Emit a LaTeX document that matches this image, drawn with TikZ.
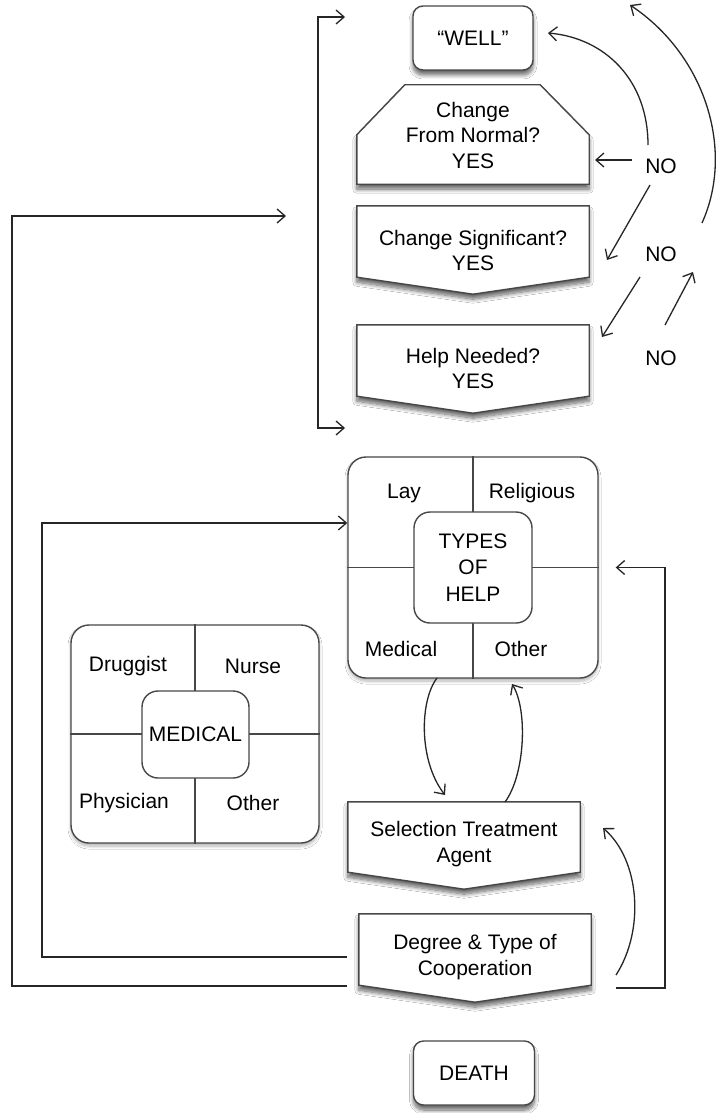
\documentclass[tikz,border=0pt]{standalone}
\usepackage{fontspec}
\setmainfont{Liberation Sans}
\usetikzlibrary{arrows.meta,calc,shadows.blur}

\begin{document}
\begin{tikzpicture}[x=1pt,y=-1pt,
  txt/.style={font=\fontsize{21}{25.5}\selectfont, align=center, inner sep=0pt, text=black},
  boxline/.style={draw=black!72, line width=1.4pt, fill=white},
  softshadow/.style={blur shadow={shadow xshift=0pt, shadow yshift=-5pt, shadow blur radius=4pt, shadow blur steps=10, shadow opacity=60}},
  lightshadow/.style={blur shadow={shadow xshift=0pt, shadow yshift=-3pt, shadow blur radius=3pt, shadow blur steps=8, shadow opacity=30}},
  rbox/.style={boxline, softshadow, rounded corners=10pt, minimum width=120pt, minimum height=64pt, inner sep=0pt},
  area/.style={draw=none, minimum width=232pt, inner sep=0pt},
  wire/.style={draw=black!72, line width=1.2pt},
  arrowline/.style={draw=black!85, line width=1.3pt, -{Straight Barb[length=8pt,width=14pt]}},
]
\fill[white] (0,0) rectangle (717,1113);
\useasboundingbox (0,0) rectangle (717,1113);

% ---- upper decision column ----
\node[rbox, txt] (well) at (473,38) {“WELL”};

\node[area, minimum height=99pt] (cfn) at (473,134.5) {};
\path[boxline, softshadow] ($(cfn.north west)+(48,0)$) -- ($(cfn.north east)+(-49,0)$)
  -- ($(cfn.north east)+(0,50)$) -- (cfn.south east) -- (cfn.south west)
  -- ($(cfn.north west)+(0,50)$) -- cycle;
\node[txt] (cfnT) at (473,135) {Change\\From Normal?\\YES};

\node[area, minimum height=71pt] (cs) at (473,241.5) {};
\path[boxline, softshadow] (cs.north west) -- (cs.north east) -- (cs.south east)
  -- ($(cs.south)+(0,17)$) -- (cs.south west) -- cycle;
\node[txt] (csT) at (473,250.5) {Change Significant?\\YES};

\node[area, minimum height=71pt] (hn) at (473,360.5) {};
\path[boxline, softshadow] (hn.north west) -- (hn.north east) -- (hn.south east)
  -- ($(hn.south)+(0,17)$) -- (hn.south west) -- cycle;
\node[txt] (hnT) at (473,368.5) {Help Needed?\\YES};

% ---- NO answers ----
\node[txt] (no1) at (661,166) {NO};
\node[txt] (no2) at (661,254) {NO};
\node[txt] (no3) at (661,358) {NO};

% ---- types of help ----
\node[boxline, lightshadow, rounded corners=18pt, minimum width=250pt, minimum height=221pt] (types) at (473,567.5) {};
\draw[wire] (types.north) -- (types.south);
\draw[wire] (types.west) -- (types.east);
\node[boxline, rounded corners=16pt, minimum width=118pt, minimum height=111pt, txt] (typesC) at (473,567.5) {TYPES\\[1pt]OF\\[1pt]HELP};
\node[txt] (lay) at (404,493) {Lay};
\node[txt] (religious) at (532,493) {Religious};
\node[txt] (medicalT) at (401,649) {Medical};
\node[txt] (otherT) at (521,649) {Other};

% ---- medical help ----
\node[boxline, lightshadow, rounded corners=18pt, minimum width=248pt, minimum height=218pt] (med) at (195,734) {};
\draw[wire] (med.north) -- (med.south);
\draw[wire] (med.west) -- (med.east);
\node[boxline, rounded corners=16pt, minimum width=107pt, minimum height=87pt, txt] (medC) at (195.5,734.5) {MEDICAL};
\node[txt] (druggist) at (128,666) {Druggist};
\node[txt] (nurse) at (253,666) {Nurse};
\node[txt] (physician) at (124,803) {Physician};
\node[txt] (otherM) at (253,803) {Other};

% ---- treatment column ----
\node[area, minimum height=70pt] (sel) at (464,837) {};
\path[boxline, softshadow] (sel.north west) -- (sel.north east) -- (sel.south east)
  -- ($(sel.south)+(0,17)$) -- (sel.south west) -- cycle;
\node[txt] (selT) at (464,844) {Selection Treatment\\Agent};

\node[area, minimum height=71pt] (deg) at (475,949.5) {};
\path[boxline, softshadow] (deg.north west) -- (deg.north east) -- (deg.south east)
  -- ($(deg.south)+(0,17)$) -- (deg.south west) -- cycle;
\node[txt] (degT) at (475,957) {Degree \& Type of\\Cooperation};

\node[rbox, txt, minimum width=121pt] (death) at (474,1073) {DEATH};

% ---- connector end points ----
\coordinate (brTop) at (318,17);
\coordinate (brBot) at (318,428);
\coordinate (brTopTip) at (345,17);
\coordinate (brBotTip) at (345,428);
\coordinate (degOut) at (347,986);
\coordinate (outerCorner) at (12,216);
\coordinate (outerTip) at (286,216);
\coordinate (degIn) at (347,957);
\coordinate (innerCorner) at (42,523);
\coordinate (degRight) at (616,988);
\coordinate (rightCorner) at (665,567.5);
\coordinate (degCurve) at (616,975);
\coordinate (selSide) at (603,828);
\coordinate (typesOut) at (437,678);
\coordinate (selIn) at (445,795);
\coordinate (selOut) at (505,802);
\coordinate (typesIn) at (512,684);
\coordinate (no1w) at (632,160);
\coordinate (cfnIn) at (595,160);
\coordinate (no1n) at (648,145);
\coordinate (wellIn) at (548,33);
\coordinate (no1s) at (650,185);
\coordinate (csIn) at (607,260);
\coordinate (no2s) at (640,277);
\coordinate (hnIn) at (602,337);
\coordinate (no3n) at (665,325);
\coordinate (no3Tip) at (693,272);
\coordinate (arcStart) at (702,223);
\coordinate (arcTip) at (630,5);

% ---- connectors ----
\draw[arrowline, {Straight Barb[length=8pt,width=14pt]}-{Straight Barb[length=8pt,width=14pt]}]
  (brTopTip) -- (brTop) -- (brBot) -- (brBotTip);
\draw[arrowline] (degOut) -| (outerCorner) -- (outerTip);
\draw[arrowline] (degIn) -| (innerCorner) -- (types.west |- innerCorner);
\draw[arrowline] (degRight) -| (rightCorner) -- ($(types.east)+(17,0)$);
\draw[arrowline] (degCurve) .. controls (645,930) and (640,860) .. (selSide);
\draw[arrowline] (typesOut) .. controls (420,700) and (418,760) .. (selIn);
\draw[arrowline] (selOut) .. controls (525,775) and (528,710) .. (typesIn);
\draw[arrowline] (no1w) -- (cfnIn);
\draw[arrowline] (no1n) .. controls (648,80) and (605,38) .. (wellIn);
\draw[arrowline] (no1s) -- (csIn);
\draw[arrowline] (no2s) -- (hnIn);
\draw[arrowline] (no3n) -- (no3Tip);
\draw[arrowline] (arcStart) .. controls (735,150) and (705,55) .. (arcTip);
\end{tikzpicture}
\end{document}
